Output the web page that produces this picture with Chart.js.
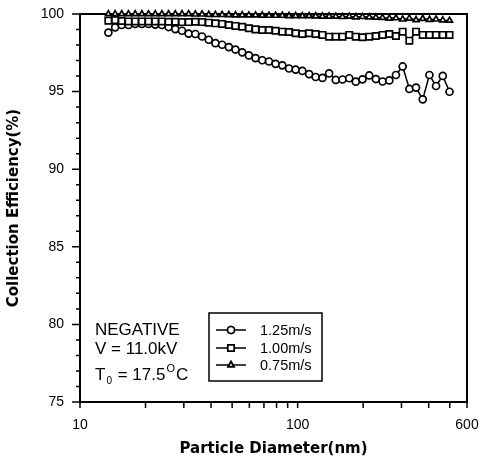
<!DOCTYPE html>
<html>
<head>
<meta charset="utf-8">
<script src="https://cdn.jsdelivr.net/npm/chart.js@4.4.1/dist/chart.umd.min.js"></script>
<style>
    body { margin: 0; background: #fff; }
    #chart { display: block; }
</style>
</head>
<body>
<canvas id="chart" width="481" height="466"></canvas>
<script>
// ========================================
// DATA
// ========================================

// Particle diameter (nm), one entry per measured channel
const diameters = [13.5, 14.5, 15.55, 16.7, 17.93, 19.25, 20.64, 22.16, 23.79, 25.52,
    27.4, 29.42, 31.56, 33.88, 36.38, 39.06, 41.9, 44.98, 48.3, 51.81,
    55.63, 59.7, 64.05, 68.77, 73.83, 79.17, 85.03, 91.28, 97.9, 105.1,
    112.9, 121.0, 130.0, 139.5, 149.7, 160.7, 172.6, 185.0, 198.7, 213.3,
    228.8, 245.6, 263.8, 282.9, 303.8, 326.1, 349.9, 375.6, 403.2, 432.5,
    464.4, 498.7];

// Collection efficiency (%) for each gas velocity
const eff125 = [98.80, 99.14, 99.29, 99.29, 99.36, 99.36, 99.36, 99.32, 99.29, 99.16,
    99.03, 98.92, 98.74, 98.71, 98.55, 98.34, 98.12, 98.02, 97.87, 97.71,
    97.53, 97.33, 97.16, 97.02, 96.94, 96.79, 96.69, 96.49, 96.42, 96.33,
    96.13, 95.94, 95.88, 96.17, 95.75, 95.78, 95.86, 95.64, 95.79, 96.04,
    95.81, 95.65, 95.72, 96.07, 96.62, 95.17, 95.26, 94.50, 96.07, 95.36,
    96.01, 94.99];

const eff100 = [99.57, 99.61, 99.55, 99.52, 99.52, 99.52, 99.52, 99.52, 99.52, 99.50,
    99.50, 99.48, 99.48, 99.50, 99.48, 99.44, 99.40, 99.36, 99.29, 99.23,
    99.18, 99.08, 99.01, 98.97, 98.97, 98.92, 98.86, 98.84, 98.76, 98.71,
    98.76, 98.71, 98.65, 98.54, 98.54, 98.54, 98.65, 98.54, 98.50, 98.54,
    98.58, 98.65, 98.71, 98.58, 98.86, 98.28, 98.86, 98.65, 98.65, 98.65,
    98.65, 98.65];

const eff075 = [100.0, 100.0, 100.0, 100.0, 100.0, 100.0, 100.0, 100.0, 100.0, 100.0,
    100.0, 100.0, 100.0, 99.98, 99.98, 99.96, 99.95, 99.95, 99.94, 99.93,
    99.93, 99.92, 99.92, 99.91, 99.90, 99.90, 99.90, 99.88, 99.88, 99.87,
    99.87, 99.86, 99.85, 99.85, 99.84, 99.82, 99.84, 99.80, 99.82, 99.80,
    99.78, 99.76, 99.72, 99.74, 99.66, 99.72, 99.62, 99.70, 99.64, 99.66,
    99.60, 99.58];

const seriesLabels = ['1.25m/s', '1.00m/s', '0.75m/s'];

// Axis ticks
const xTickValues = [10, 20, 30, 40, 50, 60, 70, 80, 90, 100, 200, 300, 400, 500, 600];
const xTickLabels = [10, 100, 600];
const yMinorStep = 1;

const FONT = '"Liberation Sans", Arial, Helvetica, sans-serif';
const TITLE_FONT = '"DejaVu Sans", Verdana, sans-serif';

// ========================================
// HELPERS
// ========================================

function toPoints(values) {
    return diameters.map((d, i) => ({ x: d, y: values[i] }));
}

function makeDataset(label, values, style, radius, order) {
    return {
        label: label,
        data: toPoints(values),
        showLine: true,
        borderColor: '#000',
        borderWidth: 1.5,
        pointStyle: style,
        pointRadius: radius,
        pointHoverRadius: radius,
        pointBackgroundColor: '#fff',
        pointBorderColor: '#000',
        pointBorderWidth: 1.7,
        clip: false,
        order: order
    };
}

// Keep the plot box fixed: no extra room reserved for edge labels
function fixScale(size) {
    return scale => {
        if (scale.isHorizontal()) scale.height = size;
        else scale.width = size;
        scale.paddingTop = 0;
        scale.paddingBottom = 0;
        scale.paddingLeft = 0;
        scale.paddingRight = 0;
    };
}

// Frame, tick marks, legend box and condition notes
const framePlugin = {
    id: 'frame',
    beforeDatasetsDraw(chart) {
        const { ctx, chartArea: a, scales: { x, y } } = chart;
        ctx.save();
        ctx.strokeStyle = '#000';
        ctx.lineWidth = 2;
        ctx.strokeRect(a.left, a.top, a.right - a.left, a.bottom - a.top);

        ctx.lineWidth = 1.5;
        ctx.beginPath();
        for (let v = y.min; v <= y.max; v += yMinorStep) {
            const py = y.getPixelForValue(v);
            const len = v % 5 === 0 ? 8 : 4;
            ctx.moveTo(a.left - len, py);
            ctx.lineTo(a.left, py);
        }
        xTickValues.forEach(v => {
            const px = x.getPixelForValue(v);
            ctx.moveTo(px, a.bottom);
            ctx.lineTo(px, a.bottom + 6);
        });
        ctx.stroke();
        ctx.restore();
    },
    afterDraw(chart) {
        const { ctx, chartArea: a } = chart;
        ctx.save();
        ctx.fillStyle = '#000';
        ctx.textBaseline = 'alphabetic';

        // Condition notes
        const nx = a.left + 15;
        ctx.font = '17px ' + FONT;
        ctx.fillText('NEGATIVE', nx, 335);
        ctx.fillText('V = 11.0kV', nx, 354);
        let tx = nx;
        ctx.fillText('T', tx, 380);
        tx += ctx.measureText('T').width;
        ctx.font = '10px ' + FONT;
        ctx.fillText('0', tx + 1, 384);
        tx += ctx.measureText('0').width + 2;
        ctx.font = '17px ' + FONT;
        ctx.fillText(' = 17.5', tx, 380);
        tx += ctx.measureText(' = 17.5').width + 1;
        ctx.font = '11px ' + FONT;
        ctx.fillText('O', tx, 372);
        tx += ctx.measureText('O').width + 1;
        ctx.font = '17px ' + FONT;
        ctx.fillText('C', tx, 380);

        // Legend
        const box = { left: 209, top: 313, width: 113, height: 68 };
        ctx.lineWidth = 1.5;
        ctx.strokeStyle = '#000';
        ctx.strokeRect(box.left, box.top, box.width, box.height);

        const rows = [330, 348, 365];
        ctx.font = '14.5px ' + FONT;
        ctx.textBaseline = 'middle';
        chart.data.datasets.forEach((ds, i) => {
            const ry = rows[i];
            ctx.lineWidth = ds.borderWidth;
            ctx.beginPath();
            ctx.moveTo(box.left + 7, ry);
            ctx.lineTo(box.left + 37, ry);
            ctx.stroke();
            ctx.fillStyle = '#fff';
            ctx.lineWidth = ds.pointBorderWidth;
            Chart.helpers.drawPoint(ctx, {
                pointStyle: ds.pointStyle,
                radius: ds.pointRadius,
                rotation: 0,
                borderWidth: ds.pointBorderWidth
            }, box.left + 22, ry);
            ctx.fill();
            ctx.stroke();
            ctx.fillStyle = '#000';
            ctx.fillText(ds.label, box.left + 51, ry + 1);
        });
        ctx.restore();
    }
};

// ========================================
// CHART
// ========================================

document.addEventListener('DOMContentLoaded', function () {
    const ctx = document.getElementById('chart').getContext('2d');

    new Chart(ctx, {
        type: 'scatter',
        data: {
            datasets: [
                makeDataset(seriesLabels[0], eff125, 'circle', 3.5, 3),
                makeDataset(seriesLabels[1], eff100, 'rect', 4.5, 2),
                makeDataset(seriesLabels[2], eff075, 'triangle', 3.4, 1)
            ]
        },
        options: {
            responsive: false,
            animation: false,
            devicePixelRatio: 1,
            layout: { padding: { top: 14, right: 14, left: 0, bottom: 0 } },
            plugins: {
                legend: { display: false },
                tooltip: { enabled: false }
            },
            scales: {
                x: {
                    type: 'logarithmic',
                    min: 10,
                    max: 600,
                    afterBuildTicks: scale => {
                        scale.ticks = xTickValues.map(v => ({ value: v }));
                    },
                    afterFit: fixScale(64),
                    border: { display: false },
                    grid: { display: true, drawOnChartArea: false, drawTicks: false, color: 'transparent' },
                    ticks: {
                        autoSkip: false,
                        maxRotation: 0,
                        padding: 15,
                        color: '#000',
                        font: { family: FONT, size: 14 },
                        callback: value => xTickLabels.includes(value) ? String(value) : ''
                    },
                    title: {
                        display: true,
                        text: 'Particle Diameter(nm)',
                        color: '#000',
                        font: { family: TITLE_FONT, size: 15, weight: 'bold' },
                        padding: { top: 0, bottom: 8 }
                    }
                },
                y: {
                    min: 75,
                    max: 100,
                    afterFit: fixScale(80),
                    border: { display: false },
                    grid: { display: true, drawOnChartArea: false, drawTicks: false, color: 'transparent' },
                    ticks: {
                        stepSize: 5,
                        padding: 16,
                        color: '#000',
                        font: { family: FONT, size: 14 }
                    },
                    title: {
                        display: true,
                        text: 'Collection Efficiency(%)',
                        color: '#000',
                        font: { family: TITLE_FONT, size: 15, weight: 'bold' },
                        padding: { top: 5, bottom: 0 }
                    }
                }
            }
        },
        plugins: [framePlugin]
    });
});
</script>
</body>
</html>
